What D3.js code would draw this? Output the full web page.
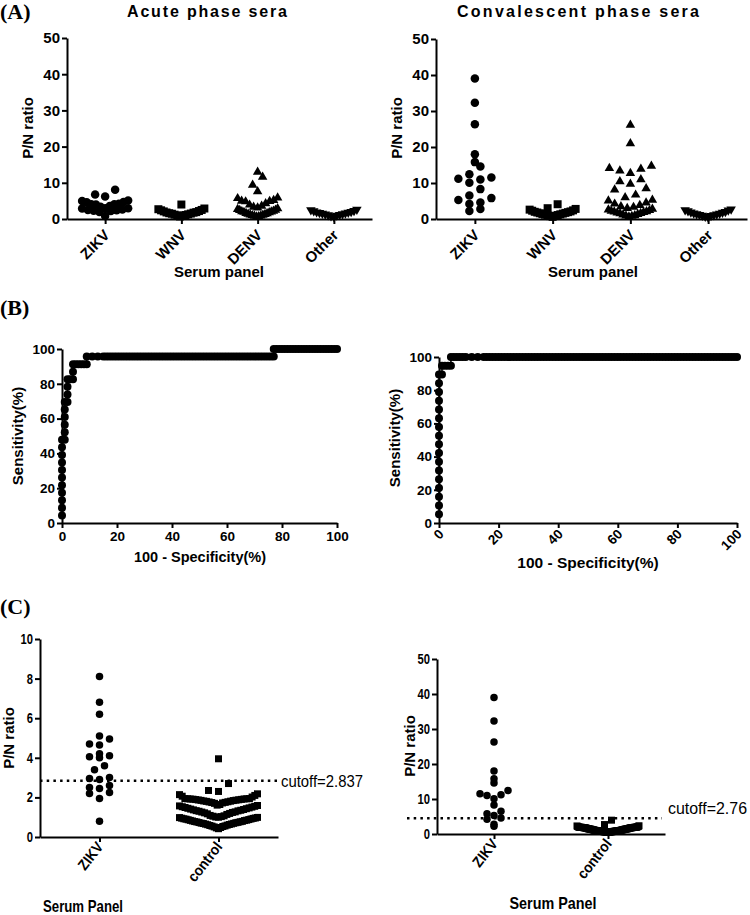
<!DOCTYPE html>
<html><head><meta charset="utf-8">
<script src="https://cdn.jsdelivr.net/npm/d3@7"></script>
<style>
body{margin:0;background:#fff}
svg{display:block}
</style>
</head><body>
<svg id="c" width="750" height="915"></svg>
<script>
// ---------------- DATA ----------------
const panelCategories = ["ZIKV", "WNV", "DENV", "Other"];
const cutoffCategories = ["ZIKV", "control"];

const zikvAcute = [8.1, 6.8, 6.2, 5.1, 4.95, 4.7, 4.65, 4.2, 4.1, 4.05, 4.0, 3.6, 3.4, 3.0, 2.95, 2.9, 2.6, 2.5, 2.45, 2.25, 2.2, 1.95, 0.8];
const wnvAcute = [4.0, 2.9, 2.7, 2.5, 2.4, 2.2, 2.1, 1.9, 1.8, 1.75, 1.6, 1.5, 1.45, 1.3, 1.2, 1.1, 1.0, 0.9, 0.7];
const denvAcute = [13.0, 11.6, 9.4, 7.6, 5.9, 5.7, 5.2, 5.0, 4.9, 4.8, 4.3, 3.9, 3.6, 3.3, 3.1, 2.9, 2.7, 2.5, 2.4, 2.2, 2.1, 2.0, 1.9, 1.8, 1.6, 1.5, 1.4, 1.3, 1.2, 1.1, 1.0, 0.9, 0.8, 0.7, 0.6];
const otherAcute = [2.6, 2.5, 2.3, 2.2, 2.0, 1.9, 1.8, 1.7, 1.6, 1.5, 1.4, 1.3, 1.2, 1.1, 1.0, 0.8, 0.6];

const zikvConv = [39.0, 32.3, 26.3, 18.0, 15.8, 14.6, 12.4, 11.5, 11.2, 11.0, 10.1, 8.3, 6.5, 5.8, 5.3, 4.6, 4.2, 2.8, 2.2];
const wnvConv = [4.1, 3.0, 2.8, 2.6, 2.4, 2.3, 2.1, 2.0, 1.9, 1.8, 1.7, 1.6, 1.5, 1.4, 1.3, 1.2, 1.1, 1.0, 0.9, 0.8, 0.6];
const denvConv = [26.1, 21.0, 14.7, 14.1, 13.9, 13.4, 12.7, 11.0, 10.4, 9.7, 8.5, 8.1, 6.7, 6.0, 5.3, 5.1, 4.5, 4.2, 3.8, 3.5, 3.3, 3.0, 2.8, 2.6, 2.4, 2.2, 2.1, 2.0, 1.9, 1.7, 1.6, 1.5, 1.3, 1.2, 1.0, 0.9, 0.8, 0.6];
const otherConv = [2.7, 2.5, 2.4, 2.2, 2.0, 1.9, 1.8, 1.6, 1.5, 1.4, 1.3, 1.2, 1.1, 1.0, 0.9, 0.7, 0.5];

const controlSera = [
  0.42, 0.46, 0.48, 0.51, 0.53, 0.55, 0.56, 0.58, 0.6, 0.62, 0.63, 0.65, 0.66, 0.68, 0.69, 0.7, 0.72, 0.73, 0.74, 0.76, 0.77, 0.78, 0.79,
  0.81, 0.83, 0.84, 0.85, 0.87, 0.88, 0.9, 0.91, 0.92, 0.94, 0.95, 0.96, 0.98, 0.99, 1.0, 1.01, 1.03, 1.05, 1.07, 1.09,
  1.14, 1.17, 1.19, 1.22, 1.24, 1.26, 1.27, 1.3, 1.32, 1.33, 1.35, 1.37, 1.39, 1.41, 1.43, 1.45, 1.47, 1.49, 1.51, 1.53, 1.55, 1.57, 1.59, 1.61, 1.64,
  1.7, 1.72, 1.74, 1.75, 1.77, 1.78, 1.8, 1.81, 1.82, 1.84, 1.85, 1.86, 1.87, 1.88, 1.89, 1.9, 1.91, 1.92, 1.92, 1.93, 1.93, 1.94, 1.94,
  2.02, 2.06, 2.1, 2.14, 2.18, 2.3, 2.35, 2.7, 3.95
];

const ticksPN50 = [0, 10, 20, 30, 40, 50];
const ticksPN10 = [0, 2, 4, 6, 8, 10];
const ticksRoc = [0, 20, 40, 60, 80, 100];

const cutoffAcute = 2.837, cutoffAcuteLabel = "cutoff=2.837";
const cutoffConvDrawn = 4.5, cutoffConvLabel = "cutoff=2.76";

// ---------------- HELPERS ----------------
const svg = d3.select("#c");
const SANS = '"Liberation Sans", Arial, Helvetica, sans-serif';
const SERIF = '"Liberation Serif", "Times New Roman", serif';

function symbolPath(shape, s) {
  if (shape === "circle") return d3.symbol(d3.symbolCircle, Math.PI * s * s / 4)();
  if (shape === "square") return d3.symbol(d3.symbolSquare, s * s)();
  return d3.symbol(d3.symbolTriangle, Math.sqrt(3) / 4 * s * s)();
}

// GraphPad-like column scatter: rows of similar values, smallest in the middle
function swarm(values, cx, y, bin, maxSp, maxW, offset) {
  const rows = d3.group(values, v => Math.floor((v - (offset || 0)) / bin));
  const out = [];
  for (const [, vs] of rows) {
    const pts = vs.slice().sort((a, b) => a - b);
    const n = pts.length;
    const sp = n > 1 ? Math.min(maxSp, maxW / (n - 1)) : 0;
    const slots = d3.range(n).map(j => j - (n - 1) / 2)
      .sort((a, b) => Math.abs(a) - Math.abs(b) || a - b);
    pts.forEach((v, j) => out.push({ v, x: cx + slots[j] * sp, y: y(v) }));
  }
  return out;
}

function drawMarks(g, pts, shape, size, invert) {
  const p = symbolPath(shape, size);
  g.selectAll(null).data(pts).enter().append("path")
    .attr("d", p)
    .attr("transform", d => `translate(${d.x},${d.y})` + (invert ? " rotate(180)" : ""))
    .attr("fill", "#000");
}

function condense(sel, f) {
  sel.each(function () {
    const w = this.getComputedTextLength();
    d3.select(this).attr("textLength", w * f).attr("lengthAdjust", "spacingAndGlyphs");
  });
}

function styleAxis(g, fsize, family) {
  g.attr("font-family", family).attr("font-size", fsize).attr("font-weight", "bold");
  g.select(".domain").attr("stroke", "#000").attr("stroke-width", 2);
  g.selectAll(".tick line").attr("stroke", "#000").attr("stroke-width", 2);
  g.selectAll(".tick text").attr("fill", "#000");
}

function text(x, y, str, opts) {
  const t = svg.append("text").attr("x", x).attr("y", y).text(str)
    .attr("font-family", opts.family || SANS)
    .attr("font-size", opts.size)
    .attr("font-weight", opts.weight || "bold")
    .attr("text-anchor", opts.anchor || "middle")
    .attr("fill", "#000");
  if (opts.rotate) t.attr("transform", `rotate(${opts.rotate},${x},${y})`);
  if (opts.len) t.attr("textLength", opts.len).attr("lengthAdjust", opts.adjust || "spacing");
  return t;
}

function rotatedXLabels(g, ang, dx, dy, fsize) {
  const a = ang * Math.PI / 180;
  const rx = dx * Math.cos(-a) - dy * Math.sin(-a);
  const ry = dx * Math.sin(-a) + dy * Math.cos(-a);
  g.selectAll(".tick text")
    .attr("text-anchor", "end")
    .attr("x", rx).attr("y", ry).attr("dy", "0")
    .attr("transform", `rotate(${ang})`)
    .attr("font-size", fsize);
}

// ---------------- PANEL A ----------------
function panelA(L, series) {
  const x = d3.scalePoint().domain(panelCategories).range([L.x0, L.x1]).padding(0.5);
  const y = d3.scaleLinear().domain([0, 50]).range([L.y0, L.y1]);
  const gy = svg.append("g").attr("transform", `translate(${L.x0},0)`)
    .call(d3.axisLeft(y).tickValues(ticksPN50).tickSize(5).tickPadding(2).tickSizeOuter(0));
  styleAxis(gy, 15, SANS);
  const gx = svg.append("g").attr("transform", `translate(0,${L.y0})`)
    .call(d3.axisBottom(x).tickSize(5).tickSizeOuter(0));
  styleAxis(gx, 15, SANS);
  rotatedXLabels(gx, -45, 5, 17, 15);
  const gm = svg.append("g");
  series.forEach(s => {
    const pts = swarm(s.values, x(s.cat), y, s.bin, s.maxSp, s.maxW, 0);
    drawMarks(gm, pts, s.shape, s.size, s.invert);
  });
}

const aStyle = {
  ZIKV: { shape: "circle", size: 8.5 },
  WNV: { shape: "square", size: 8 },
  DENV: { shape: "triangle", size: 9.5 },
  Other: { shape: "triangle", size: 9.5, invert: true }
};

const LA1 = { x0: 67, x1: 372, y0: 219, y1: 38 };
panelA(LA1, [
  Object.assign({ cat: "ZIKV", values: zikvAcute, bin: 3, maxSp: 10, maxW: 46 }, aStyle.ZIKV),
  Object.assign({ cat: "WNV", values: wnvAcute, bin: 3, maxSp: 10, maxW: 46 }, aStyle.WNV),
  Object.assign({ cat: "DENV", values: denvAcute, bin: 3, maxSp: 10, maxW: 40 }, aStyle.DENV),
  Object.assign({ cat: "Other", values: otherAcute, bin: 3, maxSp: 10, maxW: 46 }, aStyle.Other)
]);
const LA2 = { x0: 436, x1: 747, y0: 219, y1: 39 };
panelA(LA2, [
  Object.assign({ cat: "ZIKV", values: zikvConv, bin: 3, maxSp: 11, maxW: 44 }, aStyle.ZIKV),
  Object.assign({ cat: "WNV", values: wnvConv, bin: 3, maxSp: 10, maxW: 46 }, aStyle.WNV),
  Object.assign({ cat: "DENV", values: denvConv, bin: 3, maxSp: 10.5, maxW: 44 }, aStyle.DENV),
  Object.assign({ cat: "Other", values: otherConv, bin: 3, maxSp: 10, maxW: 46 }, aStyle.Other)
]);

text(0, 19, "(A)", { family: SERIF, size: 22, anchor: "start" });
text(207, 17, "Acute phase sera", { size: 16, len: 160 });
text(578, 17, "Convalescent phase sera", { size: 16, len: 242 });
text(219, 277, "Serum panel", { size: 15 });
text(593, 277, "Serum panel", { size: 15 });
text(33, 128, "P/N ratio", { size: 15, rotate: -90 });
text(402, 128, "P/N ratio", { size: 15, rotate: -90 });

// ---------------- PANEL B (ROC) ----------------
function rocPoints(pos, neg) {
  const vals = Array.from(new Set(pos.concat(neg))).sort((a, b) => b - a);
  const cuts = [];
  for (let i = 0; i < vals.length - 1; i++) cuts.push((vals[i] + vals[i + 1]) / 2);
  cuts.push(vals[vals.length - 1] - 0.01);
  return cuts.map(c => ({
    fpr: 100 * neg.filter(v => v > c).length / neg.length,
    tpr: 100 * pos.filter(v => v > c).length / pos.length
  }));
}

function panelB(L, pos, neg, rotated) {
  const x = d3.scaleLinear().domain([0, 100]).range([L.x0, L.x1]);
  const y = d3.scaleLinear().domain([0, 100]).range([L.y0, L.y1]);
  const gy = svg.append("g").attr("transform", `translate(${L.x0},0)`)
    .call(d3.axisLeft(y).tickValues(ticksRoc).tickSize(5).tickPadding(2).tickSizeOuter(0));
  styleAxis(gy, 13.5, SANS);
  const gx = svg.append("g").attr("transform", `translate(0,${L.y0})`)
    .call(d3.axisBottom(x).tickValues(ticksRoc).tickSize(5).tickPadding(3).tickSizeOuter(0));
  styleAxis(gx, 13.5, SANS);
  if (rotated) rotatedXLabels(gx, -45, 5, 12, 13.5);
  const pts = rocPoints(pos, neg);
  svg.append("path").datum(pts)
    .attr("d", d3.line().x(d => x(d.fpr)).y(d => y(d.tpr)))
    .attr("fill", "none").attr("stroke", "#000").attr("stroke-width", 1.5);
  const gm = svg.append("g");
  drawMarks(gm, pts.map(d => ({ x: x(d.fpr), y: y(d.tpr) })), "circle", 8);
}

const LB1 = { x0: 62, x1: 337, y0: 523, y1: 349 };
panelB(LB1, zikvAcute, controlSera, false);
const LB2 = { x0: 439, x1: 737, y0: 523, y1: 357 };
panelB(LB2, zikvConv, controlSera, true);

text(0, 315, "(B)", { family: SERIF, size: 22, anchor: "start" });
text(23, 436, "Sensitivity(%)", { size: 15, rotate: -90 });
text(400, 438, "Sensitivity(%)", { size: 15, rotate: -90 });
text(200, 562, "100 -  Specificity(%)", { size: 14.5 });
text(588, 568, "100 -  Specificity(%)", { size: 15.5 });

// ---------------- PANEL C ----------------
function panelC(L, ymax, ticks, zikv, zOpt, cOpt, cut, cutLabel, cutOpt) {
  const x = d3.scalePoint().domain(cutoffCategories).range([L.x0, L.x1]).padding(0.5);
  const y = d3.scaleLinear().domain([0, ymax]).range([L.y0, L.y1]);
  const gy = svg.append("g").attr("transform", `translate(${L.x0},0)`)
    .call(d3.axisLeft(y).tickValues(ticks).tickSize(5).tickPadding(2).tickSizeOuter(0));
  styleAxis(gy, 14, SANS);
  condense(gy.selectAll(".tick text"), 0.8);
  const gx = svg.append("g").attr("transform", `translate(0,${L.y0})`)
    .call(d3.axisBottom(x).tickSize(5).tickSizeOuter(0));
  styleAxis(gx, 15, SANS);
  rotatedXLabels(gx, -52, 4, 10, 15);
  condense(gx.selectAll(".tick text"), 0.9);
  const gm = svg.append("g");
  drawMarks(gm, swarm(zikv, x("ZIKV"), y, zOpt.bin, zOpt.maxSp, zOpt.maxW, zOpt.offset), "circle", 7.5);
  drawMarks(gm, swarm(controlSera, x("control"), y, cOpt.bin, cOpt.maxSp, cOpt.maxW, cOpt.offset), "square", 7);
  svg.append("line").attr("x1", cutOpt.xs).attr("x2", cutOpt.xe)
    .attr("y1", y(cut)).attr("y2", y(cut))
    .attr("stroke", "#000").attr("stroke-width", 2.5).attr("stroke-dasharray", "2.5,4.2");
  text(cutOpt.lx, y(cut) + cutOpt.ldy, cutLabel,
    { size: cutOpt.lsize, weight: "normal", anchor: "start", len: cutOpt.llen, adjust: "spacingAndGlyphs" });
}

const LC1 = { x0: 40, x1: 278, y0: 837, y1: 639 };
panelC(LC1, 10, ticksPN10, zikvAcute,
  { bin: 0.45, maxSp: 10, maxW: 40, offset: 0.1 },
  { bin: 0.6, maxSp: 10, maxW: 78, offset: 0.4 },
  cutoffAcute, cutoffAcuteLabel, { xs: 40, xe: 278, lx: 281, ldy: 6, lsize: 16, llen: 82 });
const LC2 = { x0: 437, x1: 665, y0: 834, y1: 659 };
panelC(LC2, 50, ticksPN50, zikvConv,
  { bin: 2.5, maxSp: 7, maxW: 28, offset: 0 },
  { bin: 2.5, maxSp: 7, maxW: 62, offset: 0 },
  cutoffConvDrawn, cutoffConvLabel, { xs: 407, xe: 662, lx: 668, ldy: -4, lsize: 16, llen: 79 });

text(0, 614, "(C)", { family: SERIF, size: 22, anchor: "start" });
text(14, 738, "P/N ratio", { size: 15, rotate: -90 });
text(415, 746, "P/N ratio", { size: 15, rotate: -90 });
text(83, 912, "Serum Panel", { size: 17, len: 80, adjust: "spacingAndGlyphs" });
text(553, 909, "Serum Panel", { size: 17, len: 87, adjust: "spacingAndGlyphs" });
</script>
</body></html>
